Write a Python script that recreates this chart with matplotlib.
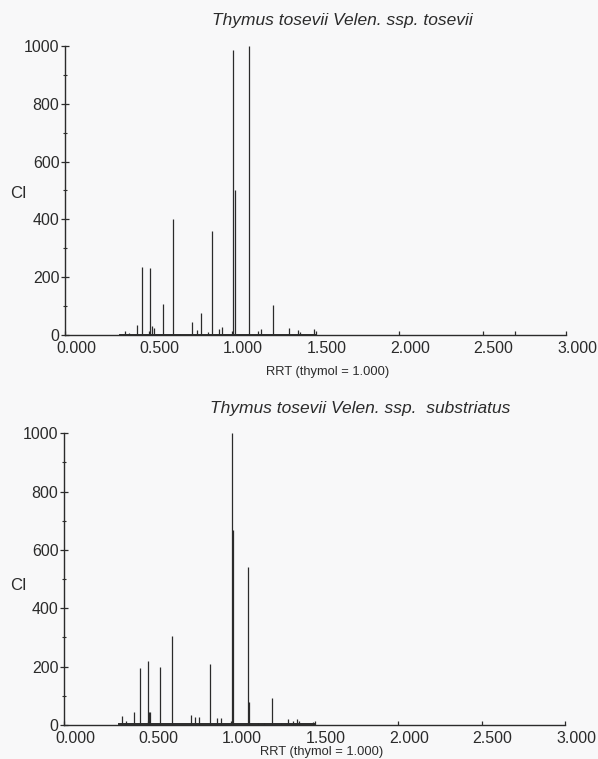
import matplotlib
matplotlib.use("Agg")
import matplotlib.pyplot as plt
from matplotlib.ticker import MultipleLocator, FormatStrFormatter
from matplotlib.transforms import ScaledTranslation

plt.rcParams['font.family'] = ['Liberation Sans', 'DejaVu Sans']

INK = '#2b2b2b'

# Thymus tosevii ssp. tosevii
top_rrt = [0.359, 0.385, 0.429, 0.461, 0.509, 0.521, 0.530, 0.587, 0.649, 0.690,
           0.762, 0.792, 0.812, 0.855, 0.880, 0.925, 0.938, 1.004, 1.018, 1.104,
           1.158, 1.172, 1.248, 1.343, 1.397, 1.410, 1.491, 2.695]
top_ci = [14, 8, 35, 236, 234, 32, 26, 108, 403, 6,
          46, 20, 78, 10, 359, 23, 28, 985, 500, 1000,
          14, 23, 104, 26, 18, 10, 23, 15]

# Thymus tosevii ssp. substriatus
bot_rrt = [0.349, 0.373, 0.421, 0.455, 0.503, 0.508, 0.516, 0.573, 0.645, 0.655,
           0.758, 0.784, 0.808, 0.874, 0.914, 0.938, 1.006, 1.014, 1.102, 1.106,
           1.160, 1.200, 1.243, 1.300, 1.343, 1.370, 1.393, 1.410, 1.491]
bot_ci = [31, 12, 46, 197, 221, 44, 44, 200, 304, 8,
          35, 29, 29, 208, 25, 25, 1000, 669, 540, 79,
          7, 7, 92, 6, 21, 13, 20, 13, 9]

titles = ['Thymus tosevii Velen. ssp. tosevii',
          'Thymus tosevii Velen. ssp.  substriatus']
xlabel = 'RRT (thymol = 1.000)'

fig = plt.figure(figsize=(5.98, 7.59), dpi=100, facecolor='#f8f8f9')
W, H = 598, 759

panels = [
    # left, right, y0 px, y1000 px, title x/y px, xlabel x/y px, CI y px
    (65, 566, 335.3, 45.7, 342, 21, 328, 372, 194, top_rrt, top_ci, titles[0]),
    (64, 565, 725.0, 433.3, 360, 408, 322, 752, 585, bot_rrt, bot_ci, titles[1]),
]

for left, right, y0, y1, tx, ty, lx, ly, cly, rrt, ci, title in panels:
    ax = fig.add_axes([left / W, 1 - y0 / H, (right - left) / W, (y0 - y1) / H])
    ax.set_facecolor('none')
    ax.vlines(rrt, 0, ci, color=INK, linewidth=0.9)
    ax.plot([0.33, 1.50], [2, 2], color=INK, linewidth=1.4)
    ax.set_xlim(0, 3)
    ax.set_ylim(0, 1000)
    for s in ('top', 'right'):
        ax.spines[s].set_visible(False)
    for s in ('left', 'bottom'):
        ax.spines[s].set_color(INK)
        ax.spines[s].set_linewidth(1.0)
    ax.xaxis.set_major_locator(MultipleLocator(0.5))
    ax.xaxis.set_major_formatter(FormatStrFormatter('%.3f'))
    ax.yaxis.set_major_locator(MultipleLocator(200))
    ax.yaxis.set_minor_locator(MultipleLocator(100))
    ax.tick_params(axis='x', direction='in', length=3, width=0.9, color=INK,
                   labelsize=11.5, labelcolor=INK, pad=4)
    ax.tick_params(axis='y', which='major', direction='inout', length=6, width=0.9,
                   color=INK, labelsize=11.5, labelcolor=INK, pad=1)
    ax.tick_params(axis='y', which='minor', direction='inout', length=3, width=0.8,
                   color=INK)
    shift = ScaledTranslation(11 / 100, 0, fig.dpi_scale_trans)
    for lab in ax.get_xticklabels():
        lab.set_transform(lab.get_transform() + shift)

    fig.text(tx / W, 1 - ty / H, title, style='italic', fontsize=12.5,
             color=INK, ha='center', va='center')
    fig.text(lx / W, 1 - ly / H, xlabel, fontsize=9.3, color=INK,
             ha='center', va='center')
    fig.text(18 / W, 1 - cly / H, 'CI', fontsize=12, color=INK,
             ha='center', va='center')

fig.savefig('out.png', dpi=100, facecolor=fig.get_facecolor())
